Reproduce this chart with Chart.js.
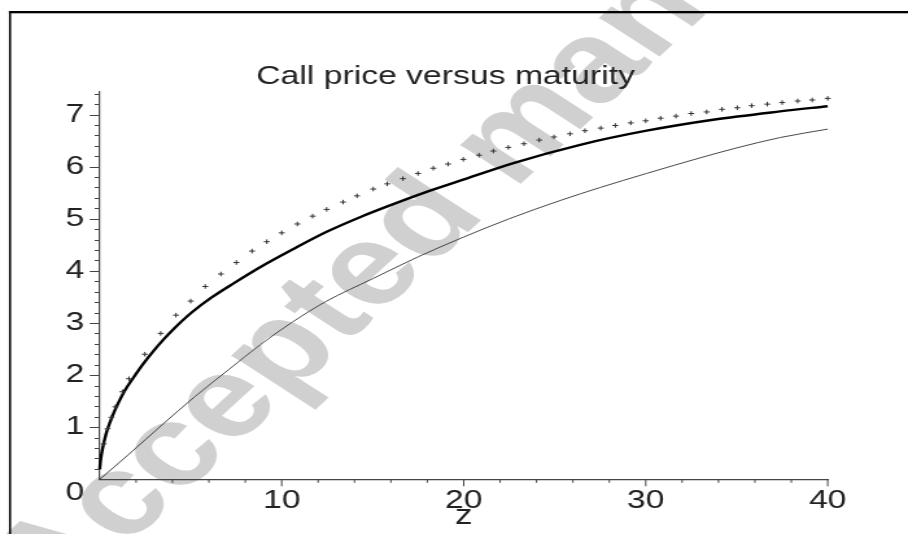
<!DOCTYPE html>
<html>
<head>
<meta charset="utf-8">
<title>Call price versus maturity</title>
<script src="https://cdn.jsdelivr.net/npm/chart.js@4/dist/chart.umd.min.js"></script>
<style>
    html, body { margin: 0; padding: 0; background: #fff; overflow: hidden; }
    /* the reference is a horizontally stretched scan, so the whole canvas is stretched too */
    #chart { display: block; transform: scaleX(1.297143); transform-origin: 0 0; }
</style>
</head>
<body>
<canvas id="chart" width="700" height="534"></canvas>
<script>
// Solid thick curve
const solidZ     = [0, 0.02, 0.06, 0.14, 0.26, 0.38, 0.55, 0.8, 1.1, 1.39, 1.85, 2.4, 2.95, 3.5, 4.05, 5.05, 6.15, 7.4, 8.81, 10.64, 12.47, 14.3, 16.13, 18, 19.8, 22.73, 26.4, 30.05, 33.7, 37.38, 40];
const solidPrice = [0.19, 0.28, 0.39, 0.56, 0.75, 0.91, 1.08, 1.30, 1.52, 1.71, 1.95, 2.22, 2.46, 2.68, 2.88, 3.20, 3.49, 3.77, 4.07, 4.42, 4.75, 5.03, 5.28, 5.52, 5.73, 6.07, 6.42, 6.69, 6.90, 7.06, 7.16];

// Thin curve
const thinZ     = [0, 1.57, 3.41, 5.24, 7.07, 8.81, 10.6, 12.47, 15, 17.5, 20, 22.5, 25.3, 27.5, 30.05, 33, 35, 37.4, 40];
const thinPrice = [0, 0.47, 1.04, 1.59, 2.10, 2.58, 3.02, 3.42, 3.85, 4.27, 4.65, 5.00, 5.35, 5.60, 5.87, 6.17, 6.36, 6.56, 6.72];

// Crosses
const crossZ = [0.22, 0.43, 0.64, 0.86, 1.25, 1.61, 2.48, 3.35, 4.19, 5.0, 5.8, 6.66, 7.51, 8.37, 9.18,
    10.0, 10.86, 11.7, 12.47, 13.37, 14.14, 15.03, 15.8, 16.66, 17.49, 18.33, 19.14, 19.98, 20.84, 21.63,
    22.45, 23.31, 24.15, 24.96, 25.84, 26.66, 27.53, 28.33, 29.18, 30.0, 30.82, 31.66, 32.5, 33.35, 34.19,
    35.03, 35.82, 36.68, 37.5, 38.35, 39.15, 40.0];
const crossPrice = [0.68, 0.97, 1.19, 1.39, 1.68, 1.93, 2.40, 2.80, 3.15, 3.42, 3.70, 3.94, 4.16, 4.38, 4.56,
    4.73, 4.90, 5.05, 5.18, 5.32, 5.44, 5.57, 5.67, 5.77, 5.87, 5.97, 6.05, 6.14, 6.22, 6.30,
    6.37, 6.44, 6.51, 6.57, 6.63, 6.69, 6.74, 6.79, 6.84, 6.88, 6.93, 6.97, 7.02, 7.05, 7.10,
    7.13, 7.17, 7.20, 7.23, 7.26, 7.28, 7.31];

// Axes
const xTicks = [10, 20, 30, 40];
const yTicks = [1, 2, 3, 4, 5, 6, 7];
const xMinorStep = 2;
const yMinorStep = 0.2;
const xMax = 40;
const yMax = 7.45;

const chartTitle = 'Call price versus maturity';
const xTitle = 'z';
const originLabel = '0';
const watermarkText = 'Accepted manuscript';

const textColor = '#222';
const axisColor = '#444';
const fontFamily = '"Liberation Sans", Arial, Helvetica, sans-serif';

Chart.defaults.font.family = fontFamily;

function toPoints(xs, ys) {
    return xs.map((x, i) => ({ x: x, y: ys[i] }));
}

/**
 * Watermark, frame, minor ticks and the shifted origin label
 */
const decorPlugin = {
    id: 'decor',
    beforeDraw(chart) {
        const ctx = chart.ctx;
        ctx.save();
        ctx.translate(43, 611);
        ctx.rotate(-50 * Math.PI / 180);
        ctx.fillStyle = '#d0d0d0';
        ctx.font = 'bold 115px ' + fontFamily;
        ctx.textBaseline = 'alphabetic';
        ctx.fillText(watermarkText, 0, 0);
        ctx.restore();
    },
    afterDraw(chart) {
        const { ctx, chartArea } = chart;
        const xs = chart.scales.x;
        const ys = chart.scales.y;

        ctx.save();
        ctx.strokeStyle = axisColor;
        ctx.lineWidth = 1;
        ctx.beginPath();
        // x ticks, hanging below the axis
        for (let i = 1; i * xMinorStep <= xMax + 1e-9; i++) {
            const v = i * xMinorStep;
            const px = xs.getPixelForValue(v);
            const len = xTicks.includes(v) ? 7 : 3.5;
            ctx.moveTo(px, chartArea.bottom);
            ctx.lineTo(px, chartArea.bottom + len);
        }
        ctx.stroke();

        // y ticks, to the left of the axis
        ctx.beginPath();
        for (let i = 1; i * yMinorStep <= yMax + 1e-9; i++) {
            const v = Math.round(i * yMinorStep * 10) / 10;
            const py = Math.round(ys.getPixelForValue(v)) + 0.5;
            const len = yTicks.includes(v) ? 7.7 : 3.9;
            ctx.moveTo(chartArea.left, py);
            ctx.lineTo(chartArea.left - len, py);
        }
        ctx.stroke();

        // origin label sits below the x axis
        ctx.fillStyle = textColor;
        ctx.font = '26px ' + fontFamily;
        ctx.textAlign = 'right';
        ctx.textBaseline = 'middle';
        ctx.fillText(originLabel, chartArea.left - 12, ys.getPixelForValue(0) + 13.6);

        // page frame
        ctx.fillStyle = '#000';
        ctx.fillRect(6.9, 11, 700, 2.3);
        ctx.fillRect(6.9, 11, 1.6, 534);
        ctx.restore();
    }
};

new Chart(document.getElementById('chart'), {
    type: 'scatter',
    data: {
        datasets: [
            {
                data: toPoints(crossZ, crossPrice),
                showLine: false,
                pointStyle: 'cross',
                pointRadius: 2.3,
                borderColor: '#333',
                backgroundColor: '#333',
                borderWidth: 1,
                clip: false
            },
            {
                data: toPoints(solidZ, solidPrice),
                showLine: true,
                borderColor: '#000',
                borderWidth: 2.4,
                pointRadius: 0,
                cubicInterpolationMode: 'monotone',
                clip: false
            },
            {
                data: toPoints(thinZ, thinPrice),
                showLine: true,
                borderColor: '#333',
                borderWidth: 0.9,
                pointRadius: 0,
                cubicInterpolationMode: 'monotone',
                clip: false
            }
        ]
    },
    options: {
        responsive: false,
        animation: false,
        events: [],
        layout: {
            padding: { left: 48.8, right: 61.9, top: 50, bottom: 0 }
        },
        plugins: {
            legend: { display: false },
            tooltip: { enabled: false },
            title: {
                display: true,
                text: chartTitle,
                color: textColor,
                font: { size: 26, weight: 'normal', lineHeight: 1.1 },
                padding: { top: 12.5, bottom: 0 }
            }
        },
        scales: {
            x: {
                type: 'linear',
                min: 0,
                max: xMax,
                afterBuildTicks: s => { s.ticks = xTicks.map(v => ({ value: v })); },
                afterFit: s => { s.height = 54.7; },
                grid: { display: false, drawTicks: false },
                border: { display: true, color: axisColor, width: 1.3 },
                ticks: {
                    color: textColor,
                    padding: 5.7,
                    autoSkip: false,
                    maxRotation: 0,
                    font: { size: 26 }
                },
                title: {
                    display: true,
                    text: xTitle,
                    color: textColor,
                    font: { size: 27 },
                    padding: { top: 0, bottom: 1.2 }
                }
            },
            y: {
                type: 'linear',
                min: 0,
                max: yMax,
                afterBuildTicks: s => { s.ticks = yTicks.map(v => ({ value: v })); },
                afterFit: s => { s.width = 28.06; },
                grid: { display: false, drawTicks: false },
                border: { display: true, color: axisColor, width: 1.2 },
                ticks: {
                    color: textColor,
                    padding: 12,
                    autoSkip: false,
                    font: { size: 26 }
                }
            }
        }
    },
    plugins: [decorPlugin]
});
</script>
</body>
</html>
